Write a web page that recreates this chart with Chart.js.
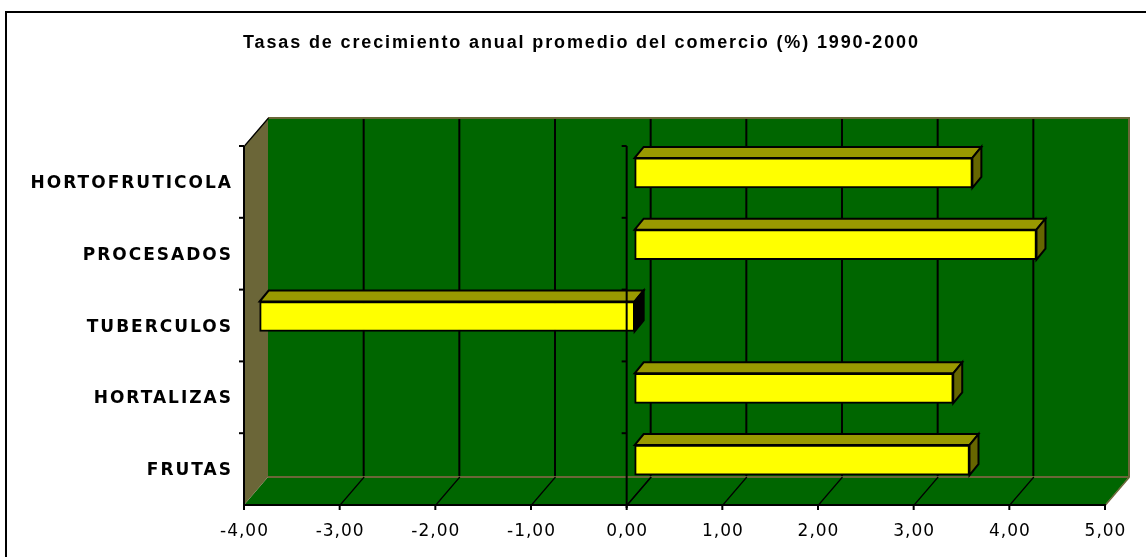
<!DOCTYPE html>
<html lang="es">
<head>
<meta charset="utf-8">
<title>Tasas de crecimiento anual promedio del comercio (%) 1990-2000</title>
<script src="https://cdn.jsdelivr.net/npm/chart.js@4.4.1/dist/chart.umd.min.js"></script>
<style>
  html, body { margin: 0; padding: 0; background: #ffffff; }
  #wrap { position: relative; width: 1146px; height: 557px; }
</style>
</head>
<body>
<div id="wrap"><canvas id="chart"></canvas></div>
<script>
// Chart data
const chartTitle = 'Tasas de crecimiento anual promedio del comercio (%) 1990-2000';
const categories = ['HORTOFRUTICOLA', 'PROCESADOS', 'TUBERCULOS', 'HORTALIZAS', 'FRUTAS'];
const growthRates = [3.53, 4.20, -3.92, 3.33, 3.50];
const xTickValues = [-4, -3, -2, -1, 0, 1, 2, 3, 4, 5];
const xTickLabels = ['-4,00', '-3,00', '-2,00', '-1,00', '0,00', '1,00', '2,00', '3,00', '4,00', '5,00'];

// 3D look: wall depth, bar depth, and bar placement inside the depth
const WALL_DX = 24, WALL_DY = -28;
const BAR_SHIFT_X = 8, BAR_SHIFT_Y = -9;
const BAR_DX = 9, BAR_DY = -11;

const COLORS = {
  wall: '#006600',
  wallEdge: '#6b6638',
  barFront: '#ffff00',
  barTop: '#999900',
  barSide: '#666600',
  barBaseEnd: '#000000',
  ink: '#000000'
};

function line(ctx, x1, y1, x2, y2, w, color) {
  ctx.beginPath();
  ctx.moveTo(x1, y1);
  ctx.lineTo(x2, y2);
  ctx.lineWidth = w;
  ctx.strokeStyle = color;
  ctx.stroke();
}

function poly(ctx, pts, fill, stroke, w) {
  ctx.beginPath();
  ctx.moveTo(pts[0][0], pts[0][1]);
  for (let i = 1; i < pts.length; i++) ctx.lineTo(pts[i][0], pts[i][1]);
  ctx.closePath();
  if (fill) { ctx.fillStyle = fill; ctx.fill(); }
  if (stroke) { ctx.lineWidth = w; ctx.strokeStyle = stroke; ctx.lineJoin = 'miter'; ctx.stroke(); }
}

// Top edges of the category bands
function bandEdges(ys) {
  const step = ys.getPixelForValue(1) - ys.getPixelForValue(0);
  return categories.map((_, i) => ys.getPixelForValue(i) - step / 2);
}

// Draws text with extra tracking so that it spans a given width
function fitText(ctx, text, x, y, width) {
  ctx.letterSpacing = '0px';
  const natural = ctx.measureText(text).width;
  const spacing = Math.max(0, (width - natural) / (text.length - 1));
  ctx.letterSpacing = spacing + 'px';
  ctx.fillText(text, x, y);
  ctx.letterSpacing = '0px';
}

const walls3d = {
  id: 'walls3d',
  beforeDraw(chart) {
    const ctx = chart.ctx;
    const xs = chart.scales.x, ys = chart.scales.y;
    const L = xs.getPixelForValue(xTickValues[0]);
    const R = xs.getPixelForValue(xTickValues[xTickValues.length - 1]);
    const T = chart.chartArea.top, B = chart.chartArea.bottom;
    ctx.save();
    ctx.fillStyle = '#ffffff';
    ctx.fillRect(0, 0, chart.width, chart.height);

    // outer frame
    ctx.lineWidth = 2;
    ctx.strokeStyle = COLORS.ink;
    ctx.strokeRect(6, 12, chart.width + 20, chart.height + 20);

    // back wall
    poly(ctx, [[L + WALL_DX, T + WALL_DY], [R + WALL_DX, T + WALL_DY], [R + WALL_DX, B + WALL_DY], [L + WALL_DX, B + WALL_DY]], COLORS.wall);
    // floor
    poly(ctx, [[L, B], [R, B], [R + WALL_DX, B + WALL_DY], [L + WALL_DX, B + WALL_DY]], COLORS.wall);
    // side wall
    poly(ctx, [[L, T], [L + WALL_DX, T + WALL_DY], [L + WALL_DX, B + WALL_DY], [L, B]], COLORS.wallEdge);

    // wall edges
    line(ctx, L + WALL_DX, T + WALL_DY, R + WALL_DX + 1, T + WALL_DY, 2, COLORS.wallEdge);
    line(ctx, R + WALL_DX, T + WALL_DY, R + WALL_DX, B + WALL_DY, 2, COLORS.wallEdge);
    line(ctx, L + WALL_DX, B + WALL_DY, R + WALL_DX, B + WALL_DY, 2, COLORS.wallEdge);
    line(ctx, R + 0.5, B, R + WALL_DX + 0.5, B + WALL_DY, 1.5, COLORS.wallEdge);
    line(ctx, L + 0.5, T, L + WALL_DX + 0.5, T + WALL_DY, 1.2, COLORS.ink);

    // value gridlines on the back wall and their traces on the floor
    xTickValues.slice(1, -1).forEach(v => {
      const x = xs.getPixelForValue(v);
      line(ctx, x + WALL_DX, T + WALL_DY + 1, x + WALL_DX, B + WALL_DY - 1, 2, COLORS.ink);
      line(ctx, x + 0.5, B, x + WALL_DX + 0.5, B + WALL_DY, 1.2, COLORS.ink);
    });

    // category axis on the left
    line(ctx, L, T, L, B + 1, 2, COLORS.ink);
    bandEdges(ys).forEach(yb => line(ctx, L - 5, yb, L, yb, 2, COLORS.ink));

    // value axis along the front of the floor
    line(ctx, L - 1, B, R + 1, B, 2, COLORS.ink);
    xTickValues.forEach(v => {
      const x = xs.getPixelForValue(v);
      line(ctx, x, B, x, B + 5, 2, COLORS.ink);
    });
    ctx.restore();
  },
  beforeDatasetsDraw(chart) {
    const ctx = chart.ctx;
    ctx.save();
    // bars sit partway into the depth of the plot
    ctx.translate(BAR_SHIFT_X, BAR_SHIFT_Y);
    const meta = chart.getDatasetMeta(0);
    meta.data.forEach((el, i) => {
      const p = el.getProps(['x', 'y', 'base', 'height'], true);
      const left = Math.min(p.x, p.base), right = Math.max(p.x, p.base);
      const top = p.y - p.height / 2, bot = p.y + p.height / 2;
      poly(ctx, [[left, top], [left + BAR_DX, top + BAR_DY], [right + BAR_DX, top + BAR_DY], [right, top]], COLORS.barTop, COLORS.ink, 2);
      const sideColor = growthRates[i] >= 0 ? COLORS.barSide : COLORS.barBaseEnd;
      poly(ctx, [[right, top], [right + BAR_DX, top + BAR_DY], [right + BAR_DX, bot + BAR_DY], [right, bot]], sideColor, COLORS.ink, 2);
    });
  },
  afterDatasetsDraw(chart) {
    const ctx = chart.ctx;
    ctx.restore();
    const xs = chart.scales.x, ys = chart.scales.y;
    const T = chart.chartArea.top, B = chart.chartArea.bottom;
    ctx.save();

    // category axis crossing at zero
    const x0 = xs.getPixelForValue(0);
    line(ctx, x0, T, x0, B + 3, 2, COLORS.ink);
    line(ctx, x0 + 0.5, B, x0 + WALL_DX + 0.5, B + WALL_DY, 1.2, COLORS.ink);
    bandEdges(ys).forEach(yb => line(ctx, x0 - 5, yb, x0, yb, 2, COLORS.ink));

    ctx.fillStyle = COLORS.ink;

    // category labels
    ctx.font = 'bold 17px "DejaVu Sans"';
    ctx.letterSpacing = '2px';
    ctx.textAlign = 'right';
    ctx.textBaseline = 'alphabetic';
    categories.forEach((c, i) => {
      ctx.fillText(c, 231 + 2, ys.getPixelForValue(i) + 6);
    });

    // value tick labels
    ctx.font = '17px "DejaVu Sans"';
    ctx.letterSpacing = '1px';
    ctx.textAlign = 'center';
    xTickValues.forEach((v, i) => {
      ctx.fillText(xTickLabels[i], xs.getPixelForValue(v) + 0.5, 536);
    });

    // title
    ctx.font = 'bold 18px "Liberation Sans"';
    ctx.textAlign = 'left';
    fitText(ctx, chartTitle, 243, 48, 675);
    ctx.restore();
  }
};

new Chart(document.getElementById('chart'), {
  type: 'bar',
  data: {
    labels: categories,
    datasets: [{
      data: growthRates,
      backgroundColor: COLORS.barFront,
      borderColor: COLORS.ink,
      borderWidth: 2,
      borderSkipped: false,
      barThickness: 30,
      clip: false
    }]
  },
  options: {
    indexAxis: 'y',
    responsive: true,
    maintainAspectRatio: false,
    animation: false,
    layout: { padding: { left: 244, right: 41, top: 146, bottom: 52 } },
    scales: {
      x: { display: false, min: -4, max: 5 },
      y: { display: false }
    },
    plugins: {
      legend: { display: false },
      tooltip: { enabled: false },
      title: { display: false }
    }
  },
  plugins: [walls3d]
});
</script>
</body>
</html>
